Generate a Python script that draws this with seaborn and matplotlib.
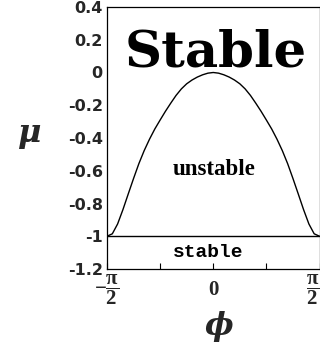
import numpy as np
import pandas as pd
import matplotlib
matplotlib.use("Agg")
import matplotlib.pyplot as plt
import seaborn as sns

# Stability boundary mu(phi), read at phase angles (radians) from -pi/2 to pi/2
phi = [-1.571, -1.492, -1.414, -1.335, -1.257, -1.178, -1.100, -1.021, -0.942,
       -0.864, -0.785, -0.707, -0.628, -0.550, -0.471, -0.393, -0.314, -0.236,
       -0.157, -0.0785, 0.0,
       0.0785, 0.157, 0.236, 0.314, 0.393, 0.471, 0.550, 0.628, 0.707, 0.785,
       0.864, 0.942, 1.021, 1.100, 1.178, 1.257, 1.335, 1.414, 1.492, 1.571]
mu = [-1.0, -0.985, -0.925, -0.837, -0.742, -0.647, -0.557, -0.477, -0.407,
      -0.345, -0.290, -0.237, -0.187, -0.140, -0.100, -0.069, -0.046, -0.028,
      -0.014, -0.004, 0.0,
      -0.004, -0.014, -0.028, -0.046, -0.069, -0.100, -0.140, -0.187, -0.237,
      -0.290, -0.345, -0.407, -0.477, -0.557, -0.647, -0.742, -0.837, -0.925,
      -0.985, -1.0]

# Lower boundary mu = -1
line_phi = [-np.pi / 2, np.pi / 2]
line_mu = [-1.0, -1.0]

x_ticks = [-np.pi / 2, -np.pi / 4, 0.0, np.pi / 4, np.pi / 2]
x_tick_labels = [r"$-\dfrac{\pi}{2}$", "", "0", "", r"$\dfrac{\pi}{2}$"]
y_ticks = [0.4, 0.2, 0.0, -0.2, -0.4, -0.6, -0.8, -1.0, -1.2]
y_tick_labels = ["0.4", "0.2", "0", "-0.2", "-0.4", "-0.6", "-0.8", "-1", "-1.2"]

sns.set_theme(style="white")
plt.rcParams["mathtext.fontset"] = "custom"
plt.rcParams["mathtext.rm"] = "Liberation Serif:bold"
plt.rcParams["mathtext.it"] = "Liberation Serif:bold"
plt.rcParams["mathtext.bf"] = "Liberation Serif:bold"

curve = pd.DataFrame({"phi": phi, "mu": mu})
boundary = pd.DataFrame({"phi": line_phi, "mu": line_mu})

fig = plt.figure(figsize=(3.20, 3.48), dpi=100)
ax = fig.add_axes([107 / 320, 1 - 269 / 348, 212.5 / 320, 262 / 348])

sns.lineplot(data=curve, x="phi", y="mu", sort=False, color="black",
             linewidth=1.0, ax=ax)
sns.lineplot(data=boundary, x="phi", y="mu", sort=False, color="black",
             linewidth=1.0, ax=ax)

ax.set_xlim(-np.pi / 2, np.pi / 2)
ax.set_ylim(-1.2, 0.4)

for s in ax.spines.values():
    s.set_color("black")
    s.set_linewidth(0.9)
    s.set_visible(True)

ax.set_xticks(x_ticks)
ax.set_xticklabels(x_tick_labels, fontsize=15, fontweight="bold",
                   family="Liberation Serif")
ax.tick_params(axis="x", direction="in", length=4, width=0.8, color="black",
               pad=15, bottom=True)
for lab in ax.get_xticklabels():
    lab.set_verticalalignment("center")
ax.get_xticklabels()[-1].set_horizontalalignment("right")

ax.set_yticks(y_ticks)
ax.set_yticklabels(y_tick_labels, fontsize=11.5, fontweight="bold",
                   family="DejaVu Sans")
ax.tick_params(axis="y", length=0, pad=3)

ax.set_xlabel("ϕ", fontsize=22, family="DejaVu Serif", fontweight="bold",
              fontstyle="italic")
ax.xaxis.set_label_coords(0.527, -0.221)
ax.xaxis.label.set_verticalalignment("center")
ax.set_ylabel("μ", fontsize=23, family="DejaVu Serif", fontweight="bold",
              fontstyle="italic", rotation=0)
ax.yaxis.set_label_coords(-0.362, 0.519)
ax.yaxis.label.set_verticalalignment("center")
ax.yaxis.label.set_horizontalalignment("center")

ax.text(0.041, 0.034, "Stable", fontsize=37, fontweight="bold",
        family="DejaVu Serif", ha="center", va="baseline", color="black")
ax.text(0.011, -0.595, "unstable", fontsize=16.5, fontweight="bold",
        family="Liberation Serif", ha="center", va="center", color="black")
ax.text(-0.078, -1.102, "stable", fontsize=14, fontweight="bold",
        family="Liberation Mono", ha="center", va="center", color="black")

fig.savefig("out.png", dpi=100, facecolor="white")
